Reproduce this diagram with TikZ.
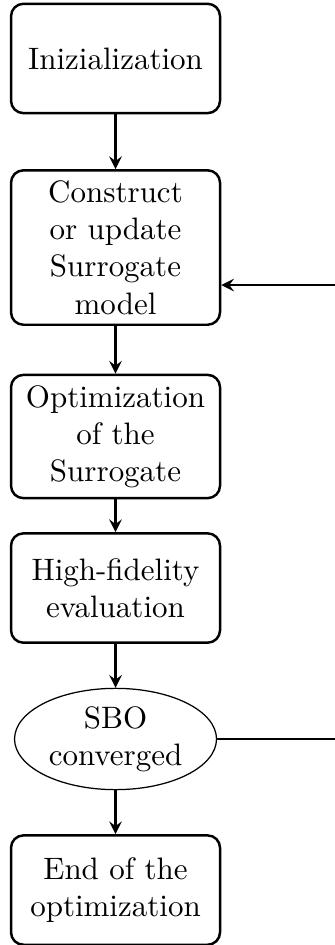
\documentclass[tikz,border=0pt]{standalone}
\usetikzlibrary{shapes.geometric}

\begin{document}
\begin{tikzpicture}[>=stealth, flow/.style={draw, thick, ->}]

      \useasboundingbox (0,0) rectangle (3.788,-10.716);

      \begin{scope}[every node/.style={rectangle, rounded corners, draw, thick, align=center,
          minimum width=2.37cm, minimum height=1.24cm}]
        \node (init) at (1.31,-0.663)  {Inizialization};
        \node (upd)  at (1.31,-2.807)  {Construct\\or update\\Surrogate\\model};
        \node (opt)  at (1.31,-4.950)  {Optimization\\of the\\Surrogate};
        \node (hf)   at (1.31,-6.668)  {High-fidelity\\evaluation};
        \node (stop) at (1.31,-10.093) {End of the\\optimization};
      \end{scope}

      \node[ellipse, draw, align=center, inner xsep=1.5pt, inner ysep=1pt] (conv) at (1.31,-8.380) {SBO\\converged};

      \coordinate (loop) at (4.2,-3.232);

      \path[flow] (init) -- (upd);
      \path[flow] (upd)  -- (opt);
      \path[flow] (opt)  -- (hf);
      \path[flow] (hf)   -- (conv);
      \path[flow] (conv) -- (stop);
      \draw (conv.east) -- (conv.east -| loop);
      \path[flow] (loop) -- (upd.east |- loop);

    \end{tikzpicture}
\end{document}
